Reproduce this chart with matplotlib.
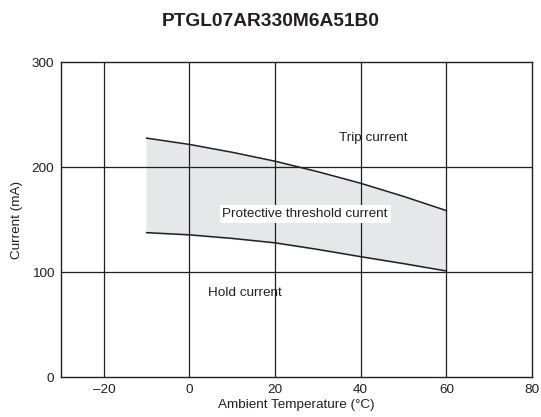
import matplotlib
matplotlib.use("Agg")
import matplotlib.pyplot as plt

plt.rcParams['font.family'] = ['Liberation Sans', 'DejaVu Sans']

temps = [-10, 0, 10, 20, 30, 40, 50, 60]
trip_ma = [227.5, 221.5, 214, 205.5, 195.5, 184.5, 172, 158.5]
hold_ma = [137.5, 135.4, 132, 127.8, 121.5, 114.6, 108, 101]

title = "PTGL07AR330M6A51B0"
xticks = [-20, 0, 20, 40, 60, 80]
yticks = [0, 100, 200, 300]

fig = plt.figure(figsize=(5.41, 4.17), dpi=100)
ax = fig.add_axes([0.1128, 0.0959, 0.8706, 0.7554])

ax.fill_between(temps, hold_ma, trip_ma, color='#e6e7e8', zorder=1)
ax.plot(temps, trip_ma, color='#231f20', lw=1.1, zorder=3)
ax.plot(temps, hold_ma, color='#231f20', lw=1.1, zorder=3)

for x in xticks[:-1]:
    ax.axvline(x, color='#231f20', lw=0.9, zorder=2)
for y in [100, 200]:
    ax.axhline(y, color='#231f20', lw=0.9, zorder=2)

ax.set_xlim(-30, 80)
ax.set_ylim(0, 300)
ax.set_xticks(xticks)
ax.set_yticks(yticks)
ax.set_xticklabels(['\u201320', '0', '20', '40', '60', '80'])
ax.tick_params(length=0, labelsize=9.7, colors='#231f20', pad=5)
for s in ax.spines.values():
    s.set_color('#231f20')
    s.set_linewidth(1.0)

ax.set_xlabel('Ambient Temperature (\u00b0C)', fontsize=9.7, color='#231f20', labelpad=2)
ax.set_ylabel('Current (mA)', fontsize=9.7, color='#231f20', labelpad=6)

ax.text(43, 228, 'Trip current', fontsize=9.7, ha='center', va='center', color='#231f20', zorder=4)
ax.text(27, 155, 'Protective threshold current', fontsize=9.7, ha='center', va='center',
        color='#231f20', zorder=4,
        bbox=dict(facecolor='white', edgecolor='none', pad=2))
ax.text(13, 80, 'Hold current', fontsize=9.7, ha='center', va='center', color='#231f20', zorder=4)

fig.suptitle(title, fontsize=13.8, fontweight='bold', y=0.97, color='#231f20')

fig.savefig('out.png', dpi=100)
